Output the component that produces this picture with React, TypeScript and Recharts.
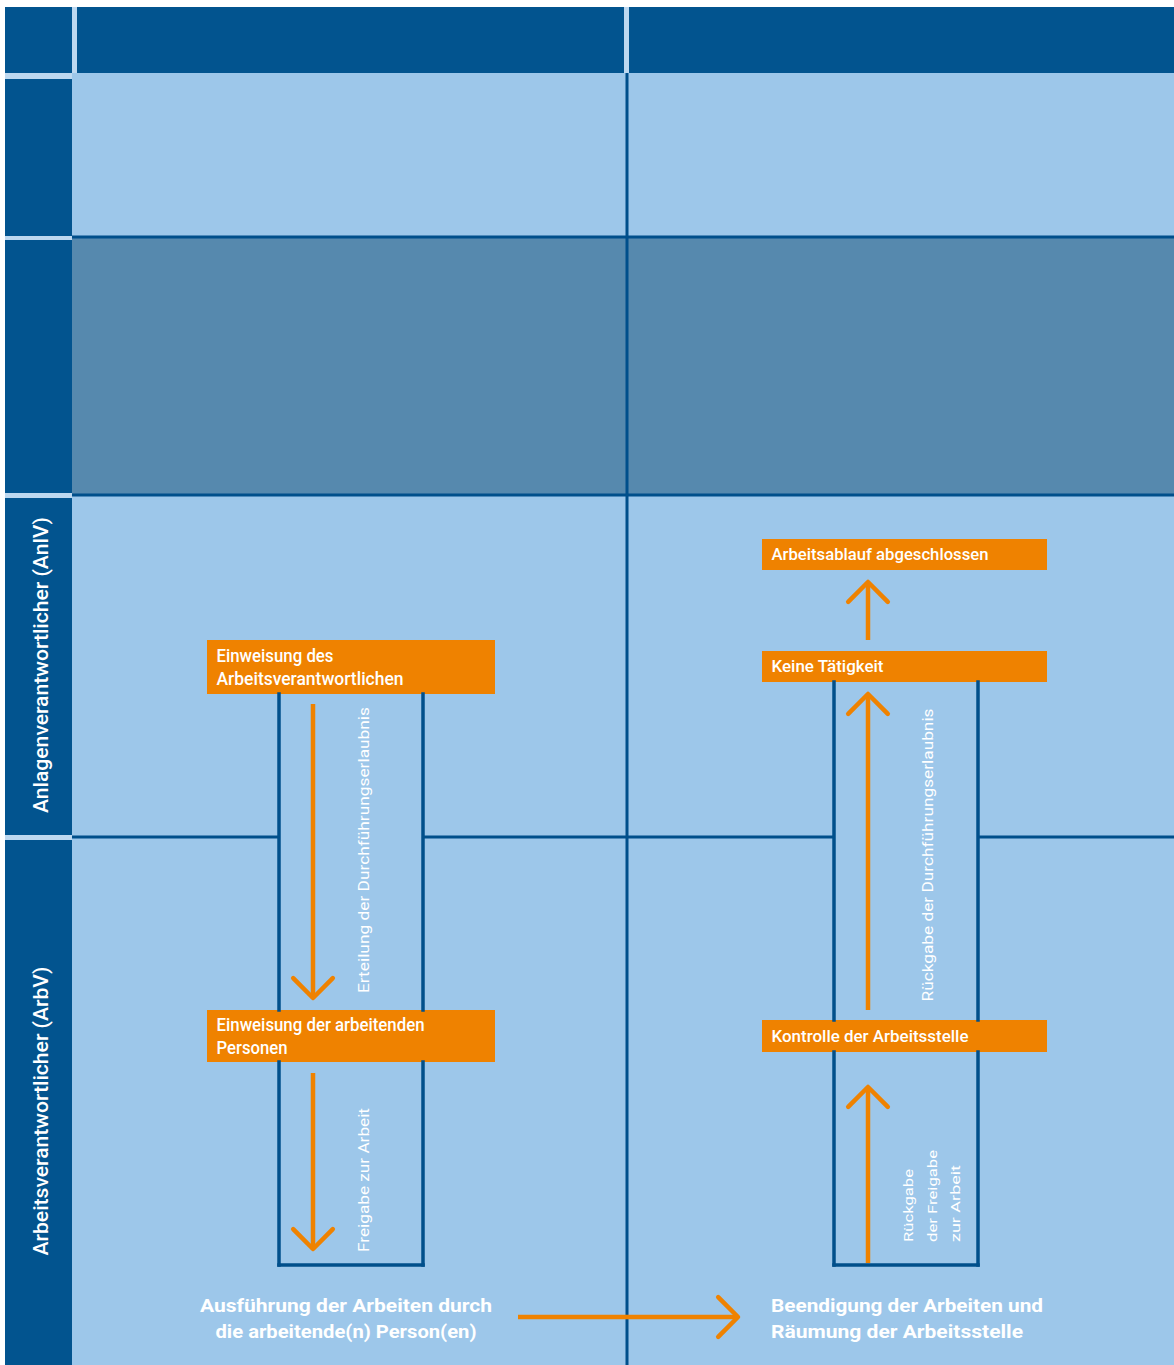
import React from 'react';
import { ComposedChart, XAxis, YAxis, ReferenceArea, ReferenceLine, ReferenceDot } from 'recharts';

const CHART_W = 1174;
const CHART_H = 1365;

const COLORS = {
  navy: '#02548F',
  gap: '#BDD8F0',
  light: '#9DC7EA',
  mid: '#5689AE',
  rule: '#004F8B',
  orange: '#EF8200',
  text: '#FFFFFF',
};
const FONT = 'Roboto, "Liberation Sans", Arial, sans-serif';

// ---- swimlane grid (diagram coordinates) ----
const sideColumn = [5, 72];
const sideCellTops = [7, 79, 240, 498, 840];
const sideCellBottoms = [73, 236, 493, 835, 1365];
const headerLefts = [77, 629];
const headerRights = [624, 1174];
const headerTopBottom = [7, 73];
const bandTops = [73, 237, 495];
const bandBottoms = [237, 495, 1365];
const bandTones = ['light', 'mid', 'light'];

const laneLabels = ['Anlagenverantwortlicher (AnlV)', 'Arbeitsverantwortlicher (ArbV)'];
const laneLabelY = [665, 1111];
const laneLabelLen = [296, 289];

// separator rules: [x1, y1, x2, y2]
const rules = [
  [72, 237, 1174, 237],
  [72, 495, 1174, 495],
  [72, 837, 279, 837],
  [423, 837, 834, 837],
  [978, 837, 1174, 837],
  [627, 73, 627, 1365],
];

// frames around the permit columns: [x1, y1, x2, y2]
const frames = [
  [279, 694, 279, 1010],
  [423, 694, 423, 1010],
  [279, 1062, 279, 1265],
  [423, 1062, 423, 1265],
  [279, 1265, 423, 1265],
  [834, 682, 834, 1020],
  [978, 682, 978, 1020],
  [834, 1052, 834, 1265],
  [978, 1052, 978, 1265],
  [834, 1265, 978, 1265],
];

// ---- process steps (orange boxes) ----
const stepLabels = [
  ['Einweisung des', 'Arbeitsverantwortlichen'],
  ['Einweisung der arbeitenden', 'Personen'],
  ['Arbeitsablauf abgeschlossen'],
  ['Keine Tätigkeit'],
  ['Kontrolle der Arbeitsstelle'],
];
const stepX1 = [207, 207, 762, 762, 762];
const stepX2 = [495, 495, 1047, 1047, 1047];
const stepY1 = [640, 1010, 539, 651, 1020];
const stepY2 = [694, 1062, 570, 682, 1052];
const stepTextLen = [
  [117, 187],
  [208, 71],
  [217],
  [112],
  [197],
];

// ---- arrows: tail -> tip ----
const arrowFrom = [
  [313, 704],
  [313, 1073],
  [868, 640],
  [868, 1010],
  [868, 1263],
  [518, 1317],
];
const arrowTo = [
  [313, 998],
  [313, 1249],
  [868, 582],
  [868, 694],
  [868, 1087],
  [738, 1317],
];

// ---- arrow captions (rotated) ----
const captionText = [
  'Erteilung der Durchführungserlaubnis',
  'Freigabe zur Arbeit',
  'Rückgabe der Durchführungserlaubnis',
  'Rückgabe',
  'der Freigabe',
  'zur Arbeit',
];
const captionX = [364, 364, 928, 908, 932, 955];
const captionY = [850, 1180, 855, 1242, 1242, 1242];
const captionAnchor = ['middle', 'middle', 'middle', 'start', 'start', 'start'];
const captionLen = [286, 144, 293, 73, 92, 77];

// ---- outcomes (bold text at the bottom) ----
const outcomeLines = [
  ['Ausführung der Arbeiten durch', 'die arbeitende(n) Person(en)'],
  ['Beendigung der Arbeiten und', 'Räumung der Arbeitsstelle'],
];
const outcomeX = [346, 771];
const outcomeY = [1312, 1312];
const outcomeAnchor = ['middle', 'start'];
const outcomeLen = [
  [292, 261],
  [272, 252],
];

const StepText = ({ cx, cy, lines, lens, height, fontSize }: any) => {
  const lh = 22.5;
  const center = cy + height / 2;
  const first = center - ((lines.length - 1) * lh) / 2 + fontSize * 0.36;
  return (
    <g>
      {lines.map((t: string, i: number) => (
        <text
          key={i}
          x={cx + 9.5}
          y={first + i * lh}
          fill={COLORS.text}
          fontFamily={FONT}
          fontWeight={500}
          fontSize={fontSize}
          textLength={lens[i]}
          lengthAdjust="spacingAndGlyphs"
        >
          {t}
        </text>
      ))}
    </g>
  );
};

const Caption = ({ cx, cy, text, anchor, len, fontSize }: any) => (
  <text
    x={cx}
    y={cy}
    dy="0.35em"
    transform={`rotate(-90 ${cx} ${cy})`}
    textAnchor={anchor}
    fill={COLORS.text}
    fontFamily={FONT}
    fontSize={fontSize}
    textLength={len}
    lengthAdjust="spacingAndGlyphs"
  >
    {text}
  </text>
);

const Head = ({ cx, cy, dx, dy }: any) => {
  const n = Math.hypot(dx, dy) || 1;
  const ux = dx / n;
  const uy = dy / n;
  const L = 28;
  const c = Math.SQRT1_2;
  const a1x = ux * c - uy * c;
  const a1y = ux * c + uy * c;
  const a2x = ux * c + uy * c;
  const a2y = -ux * c + uy * c;
  const pts = `${cx - L * a1x},${cy - L * a1y} ${cx},${cy} ${cx - L * a2x},${cy - L * a2y}`;
  return (
    <polyline
      points={pts}
      fill="none"
      stroke={COLORS.orange}
      strokeWidth={4.5}
      strokeLinecap="round"
      strokeLinejoin="round"
    />
  );
};

const Outcome = ({ cx, cy, lines, lens, anchor }: any) => (
  <g>
    {lines.map((t: string, i: number) => (
      <text
        key={i}
        x={cx}
        y={cy + i * 26}
        textAnchor={anchor}
        fill={COLORS.text}
        fontFamily={FONT}
        fontWeight={700}
        fontSize={19}
        textLength={lens[i]}
        lengthAdjust="spacingAndGlyphs"
      >
        {t}
      </text>
    ))}
  </g>
);

const LaneLabel = ({ cx, cy, text, len }: any) => (
  <text
    x={cx}
    y={cy}
    dy="0.35em"
    transform={`rotate(-90 ${cx} ${cy})`}
    textAnchor="middle"
    fill={COLORS.text}
    fontFamily={FONT}
    fontWeight={500}
    fontSize={21}
    textLength={len}
    lengthAdjust="spacingAndGlyphs"
  >
    {text}
  </text>
);

export default function App() {
  return (
    <div style={{ position: 'absolute', left: 0, top: 0, background: '#fff' }}>
      <ComposedChart
        width={CHART_W}
        height={CHART_H}
        margin={{ top: 0, right: 0, bottom: 0, left: 0 }}
        data={[]}
      >
        <XAxis type="number" dataKey="x" domain={[0, CHART_W]} allowDataOverflow hide />
        <YAxis type="number" dataKey="y" domain={[0, CHART_H]} allowDataOverflow reversed hide />

        {/* side column background and cells */}
        <ReferenceArea
          x1={sideColumn[0]}
          x2={sideColumn[1] + 5}
          y1={sideCellTops[0]}
          y2={CHART_H}
          fill={COLORS.gap}
          fillOpacity={1}
          stroke="none"
          ifOverflow="visible"
        />
        <ReferenceArea
          x1={headerRights[0]}
          x2={headerLefts[1]}
          y1={headerTopBottom[0]}
          y2={headerTopBottom[1]}
          fill={COLORS.gap}
          fillOpacity={1}
          stroke="none"
          ifOverflow="visible"
        />
        {sideCellTops.map((t, i) => (
          <ReferenceArea
            key={`side${i}`}
            x1={sideColumn[0]}
            x2={sideColumn[1]}
            y1={t}
            y2={sideCellBottoms[i]}
            fill={COLORS.navy}
            fillOpacity={1}
            stroke="none"
            ifOverflow="visible"
          />
        ))}
        {headerLefts.map((l, i) => (
          <ReferenceArea
            key={`head${i}`}
            x1={l}
            x2={headerRights[i]}
            y1={headerTopBottom[0]}
            y2={headerTopBottom[1]}
            fill={COLORS.navy}
            fillOpacity={1}
            stroke="none"
            ifOverflow="visible"
          />
        ))}
        {bandTops.map((t, i) => (
          <ReferenceArea
            key={`band${i}`}
            x1={sideColumn[1]}
            x2={CHART_W}
            y1={t}
            y2={bandBottoms[i]}
            fill={bandTones[i] === 'mid' ? COLORS.mid : COLORS.light}
            fillOpacity={1}
            stroke="none"
            ifOverflow="visible"
          />
        ))}

        {/* orange step boxes */}
        {stepLabels.map((_, i) => (
          <ReferenceArea
            key={`step${i}`}
            x1={stepX1[i]}
            x2={stepX2[i]}
            y1={stepY1[i]}
            y2={stepY2[i]}
            fill={COLORS.orange}
            fillOpacity={1}
            stroke="none"
            ifOverflow="visible"
          />
        ))}

        {/* grid rules */}
        {rules.map((r, i) => (
          <ReferenceLine
            key={`rule${i}`}
            segment={[{ x: r[0], y: r[1] }, { x: r[2], y: r[3] }]}
            stroke={COLORS.rule}
            strokeWidth={3}
            ifOverflow="visible"
          />
        ))}
        {frames.map((r, i) => (
          <ReferenceLine
            key={`frame${i}`}
            segment={[{ x: r[0], y: r[1] }, { x: r[2], y: r[3] }]}
            stroke={COLORS.rule}
            strokeWidth={3.5}
            strokeLinecap="square"
            ifOverflow="visible"
          />
        ))}

        {/* arrow shafts */}
        {arrowFrom.map((f, i) => (
          <ReferenceLine
            key={`shaft${i}`}
            segment={[{ x: f[0], y: f[1] }, { x: arrowTo[i][0], y: arrowTo[i][1] }]}
            stroke={COLORS.orange}
            strokeWidth={4.5}
            ifOverflow="visible"
          />
        ))}

        {/* arrow heads */}
        {arrowTo.map((t, i) => (
          <ReferenceDot
            key={`head${i}`}
            x={t[0]}
            y={t[1]}
            r={0}
            ifOverflow="visible"
            shape={(p: any) => (
              <Head cx={p.cx} cy={p.cy} dx={t[0] - arrowFrom[i][0]} dy={t[1] - arrowFrom[i][1]} />
            )}
          />
        ))}

        {/* step texts */}
        {stepLabels.map((lines, i) => (
          <ReferenceDot
            key={`steptext${i}`}
            x={stepX1[i]}
            y={stepY1[i]}
            r={0}
            ifOverflow="visible"
            shape={(p: any) => (
              <StepText
                cx={p.cx}
                cy={p.cy}
                lines={lines}
                lens={stepTextLen[i]}
                height={stepY2[i] - stepY1[i]}
                fontSize={lines.length > 1 ? 18 : 16}
              />
            )}
          />
        ))}

        {/* captions */}
        {captionText.map((t, i) => (
          <ReferenceDot
            key={`cap${i}`}
            x={captionX[i]}
            y={captionY[i]}
            r={0}
            ifOverflow="visible"
            shape={(p: any) => (
              <Caption
                cx={p.cx}
                cy={p.cy}
                text={t}
                anchor={captionAnchor[i]}
                len={captionLen[i]}
                fontSize={captionAnchor[i] === 'start' ? 13 : 14}
              />
            )}
          />
        ))}

        {/* outcomes */}
        {outcomeLines.map((lines, i) => (
          <ReferenceDot
            key={`out${i}`}
            x={outcomeX[i]}
            y={outcomeY[i]}
            r={0}
            ifOverflow="visible"
            shape={(p: any) => (
              <Outcome cx={p.cx} cy={p.cy} lines={lines} lens={outcomeLen[i]} anchor={outcomeAnchor[i]} />
            )}
          />
        ))}

        {/* lane labels */}
        {laneLabels.map((t, i) => (
          <ReferenceDot
            key={`lane${i}`}
            x={41}
            y={laneLabelY[i]}
            r={0}
            ifOverflow="visible"
            shape={(p: any) => <LaneLabel cx={p.cx} cy={p.cy} text={t} len={laneLabelLen[i]} />}
          />
        ))}
      </ComposedChart>
    </div>
  );
}
